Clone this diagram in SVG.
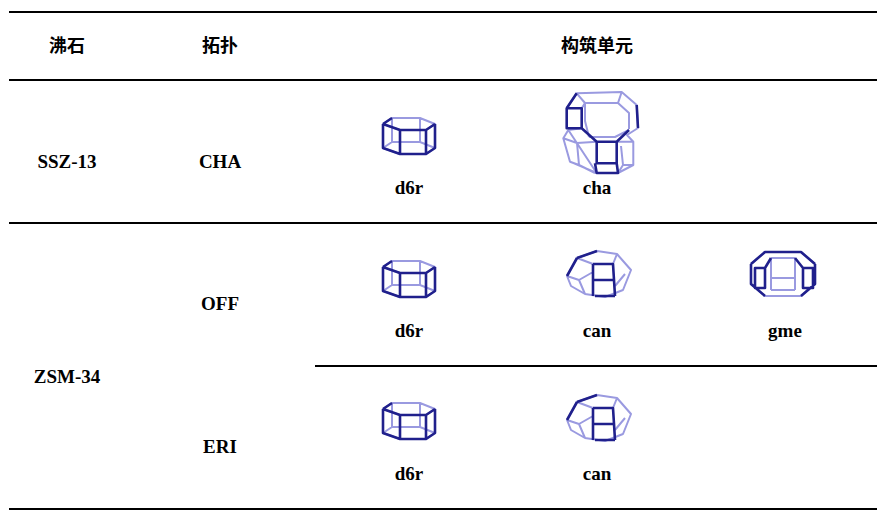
<svg xmlns="http://www.w3.org/2000/svg" width="887" height="522" viewBox="0 0 887 522">
<style>
.t{font-family:"Liberation Serif","Times New Roman","DejaVu Serif",serif;font-weight:bold;font-size:19px;text-anchor:middle;fill:#000}
.h{font-family:"Noto Sans CJK SC",sans-serif;font-weight:bold;font-size:18px;text-anchor:middle}
.rule{stroke:#000;stroke-width:2}
.lt{fill:none;stroke:#9a9ae0;stroke-width:2;stroke-linejoin:round}
.dk{fill:none;stroke:#20208c;stroke-width:2.6;stroke-linejoin:round}
</style>
<defs>
<g id="d6r">
<path class="lt" d="M0,8 L9,2 L37,2 L52,8 L43,14 L17,14 Z M0,32 L9,26 L37,26 L52,32 L43,38 L17,38 Z M9,2V26 M37,2V26"/>
<path class="dk" d="M0,8 L17,14 L43,14 L52,8 M0,8V32 L17,38 L43,38 L52,32 V8 M17,14V38 M43,14V38 M0,8 L9,2"/>
</g>
<g id="can">
<path class="lt" d="M2,26 L12,8 L32,1 L52,4 L66,20 L58,40 L40,47 L20,44 L6,36 Z M12,8 L28,14 M52,4 L48,14 M14,30 L28,22 M50,36 L60,24 M2,26 L14,30 L20,44 M28,14 L28,44"/>
<path class="dk" d="M12,8 L32,1 M28,14 L48,14 L50,46 M28,14 V46 M28,30 H49 M30,46 L50,46 M2,26 L12,8"/>
</g>
<g id="gme">
<path class="lt" d="M0,14 L14,2 L50,2 L64,14 L64,34 L50,46 L14,46 L0,34 Z M20,8 H44 M20,8 V40 M44,8 V40 M20,28 H44 M20,40 H44"/>
<path class="dk" d="M0,14 L14,2 L50,2 L64,14 M4,18 H14 V38 H4 Z M52,18 H62 V38 H52 Z M0,14 V34 L14,46 M64,14 V34 L50,46 M14,18 L20,8 M52,18 L44,8"/>
</g>
</defs>
<line class="rule" x1="9" y1="12" x2="877" y2="12"/>
<line class="rule" x1="9" y1="80" x2="877" y2="80" stroke-width="1.5"/>
<line class="rule" x1="9" y1="223" x2="877" y2="223" stroke-width="1.5"/>
<line class="rule" x1="315" y1="366" x2="877" y2="366" stroke-width="1.5"/>
<line class="rule" x1="9" y1="509" x2="877" y2="509"/>
<text class="h" x="67" y="52">沸石</text>
<text class="h" x="220" y="52">拓扑</text>
<text class="h" x="597" y="52">构筑单元</text>
<g id="r1">
<text class="t" x="67" y="168">SSZ-13</text>
<text class="t" x="220" y="168">CHA</text>
<use href="#d6r" x="383" y="116"/>
<text class="t" x="409" y="194">d6r</text>
<g id="cha" transform="translate(563,91)">
<path class="lt" d="M3.7,17.3 L13.7,2.3 L58.7,1 L73.7,14 L75,37 L64,44 L70.3,50.7 L70.3,74 L55,82 M33.7,82 L7,70.7 L0.3,47.3 L5.3,39 Z M22,12 H55 L66,22 V38 M22,12 L18.7,17.3 M26,46 H52 L66,39 M22,12 L22,30 L26,46 M58.7,1 L55,12 M13.7,2.3 L22,12 M5.3,39 L18.7,37.3 M0.3,47.3 L14,52 L16,74 L32,82 M14,52 L33.7,50.7 M53.7,50.7 L70.3,50.7 M16,74 L7,70.7 M55,82 L60,74 L70.3,74 M60,74 L58,55"/>
<path class="dk" d="M3.7,17.3 H18.7 V37.3 H3.7 Z M18.7,37.3 L33.7,50.7 M53.7,50.7 L66,39 M33.7,50.7 H53.7 V72.3 H33.7 Z M32,72.3 L33.7,82 H55 L53.7,72.3 M13.7,2.3 L3.7,17.3 M73.7,14 L75,37"/>
</g>
<text class="t" x="597" y="194">cha</text>
</g>
<g id="r2">
<text class="t" x="220" y="310">OFF</text>
<text class="t" x="67" y="383">ZSM-34</text>
<use href="#d6r" x="383" y="259"/>
<text class="t" x="409" y="337">d6r</text>
<use href="#can" x="565" y="250"/>
<text class="t" x="597" y="337">can</text>
<use href="#gme" x="751" y="250"/>
<text class="t" x="785" y="337">gme</text>
</g>
<g id="r3">
<text class="t" x="220" y="453">ERI</text>
<use href="#d6r" x="383" y="401"/>
<text class="t" x="409" y="480">d6r</text>
<use href="#can" x="565" y="394"/>
<text class="t" x="597" y="480">can</text>
</g>
<g id="connectors"></g>
</svg>
